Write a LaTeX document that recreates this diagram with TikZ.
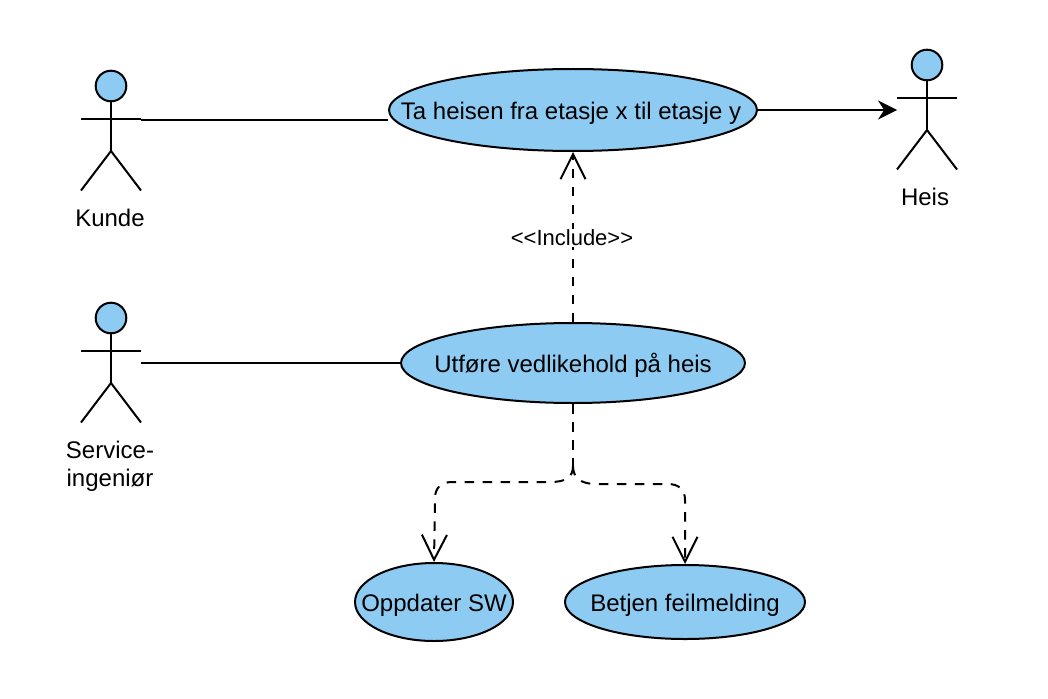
\documentclass[tikz,border=0pt]{standalone}
\usepackage{fontspec}
\setmainfont{Liberation Sans}
\usetikzlibrary{arrows.meta}
\usetikzlibrary{shapes.geometric}
\usetikzlibrary{backgrounds}
\definecolor{usecaseblue}{HTML}{8DCBF2}
\newcommand{\casetext}[1]{\makebox[0pt]{#1}}
\tikzset{
  usecase/.style={draw, fill=usecaseblue, ellipse, line width=2pt, inner sep=0pt, text height=18pt, text depth=0pt, font=\fontsize{24}{24}\selectfont},
  actorname/.style={align=center, font=\fontsize{24}{28}\selectfont},
  includelabel/.style={fill=white, inner sep=1pt, font=\fontsize{22}{22}\selectfont},
  assoc/.style={line width=2pt},
  flowdash/.style={line width=2pt, dash pattern=on 9.5pt off 8.5pt},
  openflow/.style={flowdash, -{Straight Barb[length=25pt,width=25pt,line width=2pt]}},
  actor/.pic={
    \draw[line width=2pt, fill=usecaseblue] (0,0) circle (15.3);
    \draw[line width=2pt] (0,15.3) -- (0,65);
    \draw[line width=2pt] (-30,33) -- (30,33);
    \draw[line width=2pt] (-30,104.5) -- (0,65) -- (30,104.5);
    \coordinate (-hand) at (30,34);
  }
}
\begin{document}
\begin{tikzpicture}[x=1pt,y=-1pt]
\useasboundingbox (0,0) rectangle (1048,698);

\pic (kunde) at (111,86) {actor};
\pic (heis) at (927,65) {actor};
\pic (service) at (111,318) {actor};

\node[actorname] (kundename) at (110,218) {Kunde};
\node[actorname] (heisname) at (925,197) {Heis};
\node[actorname] (servicename) at (110,466) {Service-\\ingeniør};

\node[usecase, minimum width=368, minimum height=82] (ride) at (573,110) {\casetext{\hspace{-4pt}Ta heisen fra etasje x til etasje y}};
\node[usecase, minimum width=344, minimum height=80] (service case) at (573,363) {\casetext{Utføre vedlikehold på heis}};
\node[usecase, minimum width=158, minimum height=78] (update) at (434,602) {\casetext{Oppdater SW}};
\node[usecase, minimum width=240, minimum height=74] (fault) at (685,602) {\casetext{Betjen feilmelding}};

\coordinate (split) at (573,466);
\coordinate (heisarm) at (897,110);
\coordinate (servicehand) at (141,363);

\begin{scope}[on background layer]
\draw[assoc] (kunde-hand) -- (kunde-hand -| ride.west);
\end{scope}
\draw[assoc] (servicehand) -- (service case.west);
\draw[assoc, -{Stealth[length=19pt,width=19pt]}] (ride.east) -- (heisarm);

\draw[openflow] (service case.north) -- (ride.south) node[includelabel, pos=0.495, xshift=-1] (include) {<{}<Include>{}>};
\draw[flowdash] (service case.south) -- (split);
\draw[openflow] (split) .. controls (573,478) and (565,482) .. (550,482) -- (452,482) .. controls (441,482) and (435,488) .. (435,498) -- (update.north);
\draw[openflow] (split) .. controls (573,478) and (581,484) .. (596,484) -- (668,484) .. controls (679,484) and (685,490) .. (685,500) -- (fault.north);
\end{tikzpicture}
\end{document}
